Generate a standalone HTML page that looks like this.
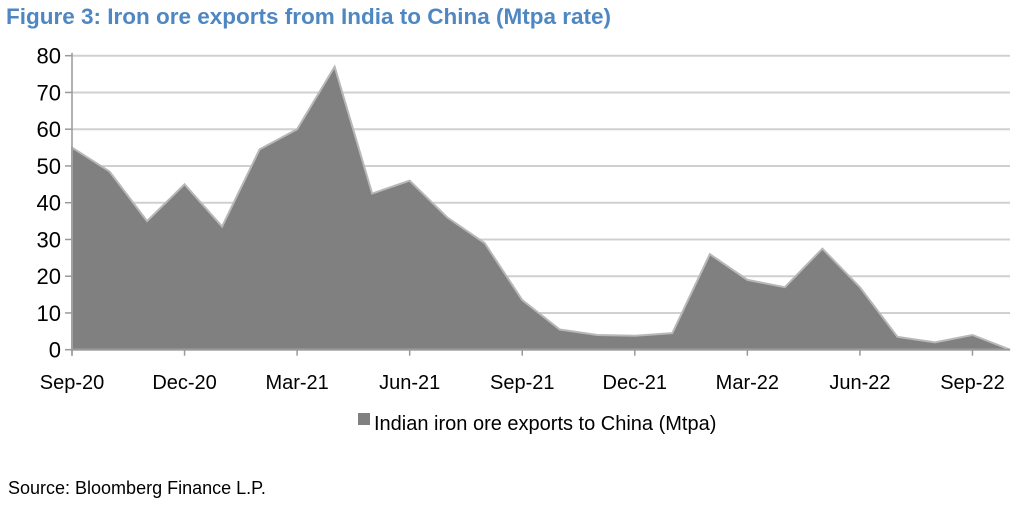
<!DOCTYPE html>
<html><head><meta charset="utf-8"><style>
body{margin:0;background:#fff;width:1024px;height:505px;overflow:hidden;font-family:"Liberation Sans",Arial,sans-serif}
</style></head><body>
<svg width="1024" height="505">
<text x="6" y="24" font-size="22.5" font-weight="bold" fill="#4f87c3">Figure 3: Iron ore exports from India to China (Mtpa rate)</text>
<g id="grid"></g>
<path id="area" fill="#808080" stroke="#b8b8b8" stroke-width="2"/>
<g id="axes"></g>
<rect x="358" y="413" width="12" height="12" fill="#808080"/>
<text x="374" y="430" font-size="20" fill="#000">Indian iron ore exports to China (Mtpa)</text>
<text x="8" y="494" font-size="18" fill="#000">Source: Bloomberg Finance L.P.</text>
</svg>
<script>
const months=["Sep-20","Oct-20","Nov-20","Dec-20","Jan-21","Feb-21","Mar-21","Apr-21","May-21","Jun-21","Jul-21","Aug-21","Sep-21","Oct-21","Nov-21","Dec-21","Jan-22","Feb-22","Mar-22","Apr-22","May-22","Jun-22","Jul-22","Aug-22","Sep-22","Oct-22"];
const values=[55,48.5,35,45,33.5,54.5,60,77,42.5,46,36,29,13.5,5.5,4,3.8,4.5,26,19,17,27.5,17,3.5,2,4,0];
const yTicks=[0,10,20,30,40,50,60,70,80];
const NS="http://www.w3.org/2000/svg";
const x0=72,x1=1010,y0=349.7,yTop=55.7;
const X=i=>x0+(x1-x0)*i/(months.length-1);
const Y=v=>y0-(y0-yTop)*v/80;
const grid=document.getElementById('grid'),axes=document.getElementById('axes');
function mk(t,a,p){const e=document.createElementNS(NS,t);for(const k in a)e.setAttribute(k,a[k]);p.appendChild(e);return e;}
yTicks.forEach(v=>{
 if(v>0){const l=mk('line',{x1:x0,x2:x1,y1:Y(v),y2:Y(v),stroke:'#d0d0d0','stroke-width':2},grid);
 
 }
 mk('line',{x1:x0-7,x2:x0,y1:Y(v),y2:Y(v),stroke:'#999','stroke-width':1.5},axes);
 const t=mk('text',{x:x0-11,y:Y(v)+8,'text-anchor':'end','font-size':22},axes);t.textContent=v;
 
 
});
let d='M'+X(0)+','+Y(0);
values.forEach((v,i)=>d+=' L'+X(i)+','+Y(v));
d+=' L'+X(values.length-1)+','+Y(0)+' Z';
document.getElementById('area').setAttribute('d',d);
mk('line',{x1:x0,x2:x0,y1:yTop-3,y2:y0+6,stroke:'#999','stroke-width':1.5},axes);
mk('line',{x1:x0,x2:x1,y1:y0,y2:y0,stroke:'#999','stroke-width':1.5},axes);
months.forEach((m,i)=>{
 if(i%3)return;
 mk('line',{x1:X(i),x2:X(i),y1:y0,y2:y0+6,stroke:'#999','stroke-width':1.5},axes);
 const t=mk('text',{x:X(i),y:389,'text-anchor':'middle','font-size':20},axes);t.textContent=m;
 
 
});
</script>
</body></html>
